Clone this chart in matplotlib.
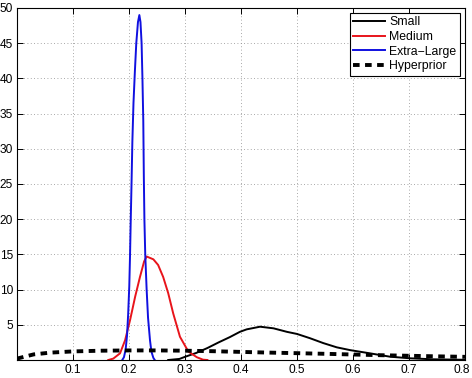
import matplotlib
matplotlib.use("Agg")
import matplotlib.pyplot as plt
import matplotlib.transforms as mtransforms

plt.rcParams['font.family'] = ['Liberation Sans', 'DejaVu Sans']

# Small
small_x = [0.27, 0.29, 0.30, 0.32, 0.34, 0.36, 0.38, 0.398, 0.41, 0.434, 0.458, 0.482, 0.50,
           0.523, 0.547, 0.571, 0.595, 0.63, 0.666, 0.702, 0.743, 0.80]
small_y = [0.0, 0.15, 0.45, 1.0, 1.7, 2.5, 3.25, 4.0, 4.35, 4.73, 4.5, 4.0, 3.7,
           3.1, 2.4, 1.8, 1.4, 0.95, 0.47, 0.24, 0.1, 0.03]

# Medium
medium_x = [0.163, 0.172, 0.184, 0.193, 0.202, 0.211, 0.2196, 0.227, 0.2315, 0.2435, 0.252,
            0.261, 0.270, 0.279, 0.291, 0.306, 0.321, 0.332, 0.34]
medium_y = [0.0, 0.2, 0.95, 2.8, 5.7, 9.0, 11.8, 14.0, 14.7, 14.3, 13.5,
            11.8, 9.5, 6.6, 3.3, 1.2, 0.4, 0.05, 0.0]

# Extra-Large
xl_x = [0.188, 0.191, 0.194, 0.1965, 0.1985, 0.2005, 0.2018, 0.203, 0.2045, 0.206, 0.208,
        0.2105, 0.213, 0.216, 0.2185, 0.2205, 0.2225, 0.224, 0.2255, 0.2265, 0.2275, 0.229,
        0.2315, 0.234, 0.2375, 0.240, 0.2435, 0.246]
xl_y = [0.0, 0.4, 1.5, 3.5, 6.5, 10.5, 14.7, 19.5, 25.0, 31.0, 36.5,
        41.0, 45.0, 48.0, 49.0, 48.0, 45.0, 40.0, 34.0, 26.0, 20.0, 15.0,
        10.0, 6.0, 2.8, 1.2, 0.3, 0.0]

# Hyperprior
hyper_x = [0.0, 0.03, 0.06, 0.10, 0.15, 0.20, 0.25, 0.30, 0.35, 0.40, 0.45, 0.50, 0.55,
           0.60, 0.65, 0.70, 0.75, 0.80]
hyper_y = [0.2, 0.8, 1.05, 1.22, 1.32, 1.36, 1.36, 1.32, 1.25, 1.15, 1.05, 0.97, 0.88,
           0.78, 0.68, 0.6, 0.52, 0.45]

labels = ['Small', 'Medium', 'Extra\u2212Large', 'Hyperprior']
xticks = [0.1, 0.2, 0.3, 0.4, 0.5, 0.6, 0.7, 0.8]
yticks = [5, 10, 15, 20, 25, 30, 35, 40, 45, 50]

fig = plt.figure(figsize=(4.72, 3.78), dpi=100)
ax = fig.add_axes([17/472, 18/378, 448/472, 352/378])

lw = 1.4
ax.plot(small_x, small_y, color='black', lw=lw, label=labels[0])
ax.plot(medium_x, medium_y, color='#e8141b', lw=lw, label=labels[1])
ax.plot(xl_x, xl_y, color='#1010e0', lw=lw, label=labels[2])
ax.plot(hyper_x, hyper_y, color='black', lw=2.8, linestyle=(0, (1.7, 1.4)), label=labels[3])

ax.set_xlim(0, 0.8)
ax.set_ylim(0, 50)
ax.set_xticks(xticks)
ax.set_xticklabels([('%g' % v) for v in xticks])
ax.set_yticks(yticks)
ax.set_yticklabels([str(v) for v in yticks])
ax.tick_params(direction='in', length=4, width=0.7, top=True, right=True,
               labelsize=8.6, pad=3)
ax.grid(True, linestyle=(0, (1, 3)), color='#8c8c8c', linewidth=0.6)
for s in ax.spines.values():
    s.set_linewidth(0.8)

# keep the last x tick label inside the figure
last = ax.get_xticklabels()[-1]
last.set_transform(last.get_transform() + mtransforms.ScaledTranslation(-3/100, 0, fig.dpi_scale_trans))

leg = ax.legend(loc='upper right', bbox_to_anchor=(0.989, 0.987), borderaxespad=0,
                fontsize=8.8, fancybox=False, framealpha=1, edgecolor='black',
                handlelength=2.6, handletextpad=0.35, labelspacing=0.22,
                borderpad=0.3)
leg.get_frame().set_linewidth(0.8)

fig.savefig('out.png', dpi=100)
